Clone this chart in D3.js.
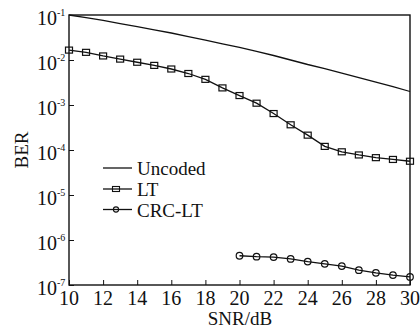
<!DOCTYPE html>
<html>
<head>
<meta charset="utf-8">
<script src="https://cdn.jsdelivr.net/npm/d3@7"></script>
<style>
  body { margin: 0; background: #fff; }
  text { font-family: "Liberation Serif", "DejaVu Serif", serif; fill: #111; }
</style>
</head>
<body>
<div class="canva"></div>
<script>
// SNR values (dB)
const snr = [10, 11, 12, 13, 14, 15, 16, 17, 18, 19, 20, 21, 22, 23, 24, 25, 26, 27, 28, 29, 30];
const snrCrc = [20, 21, 22, 23, 24, 25, 26, 27, 28, 29, 30];

// BER (log10)
const uncodedLog = [-1.0, -1.06, -1.12, -1.19, -1.26, -1.33, -1.40, -1.48, -1.56, -1.64, -1.72, -1.81, -1.90, -2.0, -2.10, -2.19, -2.29, -2.39, -2.49, -2.59, -2.70];
const ltLog = [-1.78, -1.83, -1.91, -1.98, -2.05, -2.12, -2.20, -2.30, -2.43, -2.62, -2.79, -2.96, -3.19, -3.44, -3.67, -3.92, -4.04, -4.11, -4.17, -4.21, -4.25];
const crcLog = [-6.35, -6.37, -6.38, -6.42, -6.48, -6.53, -6.58, -6.67, -6.73, -6.78, -6.82];

const xTicks = [10, 12, 14, 16, 18, 20, 22, 24, 26, 28, 30];
const yExps = [-1, -2, -3, -4, -5, -6, -7];
const legendNames = ["Uncoded", "LT", "CRC-LT"];

const W = 420, H = 331;
const mLeft = 69, mRight = 410, mTop = 15, mBottom = 285;

const svg = d3.select('.canva').append('svg')
    .attr('width', W)
    .attr('height', H);

const x = d3.scaleLinear().domain([10, 30]).range([mLeft, mRight]);
const y = d3.scaleLog().domain([1e-7, 1e-1]).range([mBottom, mTop]);

const toPts = (xs, logs) => xs.map((d, i) => ({x: d, v: Math.pow(10, logs[i])}));
const uncoded = toPts(snr, uncodedLog);
const lt = toPts(snr, ltLog);
const crc = toPts(snrCrc, crcLog);

const line = d3.line().x(d => x(d.x)).y(d => y(d.v));
const stroke = '#111';

// frame
svg.append('rect')
    .attr('x', mLeft).attr('y', mTop)
    .attr('width', mRight - mLeft).attr('height', mBottom - mTop)
    .attr('fill', 'none').attr('stroke', stroke).attr('stroke-width', 1.4);

// x axis ticks (inward)
const xAxis = d3.axisBottom(x).tickValues(xTicks).tickSizeInner(-5).tickSizeOuter(0).tickFormat('');
const gx = svg.append('g').attr('transform', `translate(0,${mBottom})`).call(xAxis);
gx.select('.domain').remove();
gx.selectAll('line').attr('stroke', stroke);

svg.append('g').selectAll('text')
    .data(xTicks)
    .enter().append('text')
    .attr('x', d => x(d))
    .attr('y', 305)
    .attr('text-anchor', 'middle')
    .attr('font-size', 20)
    .text(d => d);

// y axis ticks (inward)
const yAxis = d3.axisLeft(y).tickValues(yExps.map(e => Math.pow(10, e))).tickSizeInner(-5).tickSizeOuter(0).tickFormat('');
const gy = svg.append('g').attr('transform', `translate(${mLeft},0)`).call(yAxis);
gy.select('.domain').remove();
gy.selectAll('line').attr('stroke', stroke);

svg.append('g').selectAll('text')
    .data(yExps)
    .enter().append('text')
    .attr('x', 57)
    .attr('y', d => y(Math.pow(10, d)) + 10)
    .attr('text-anchor', 'end')
    .attr('font-size', 20)
    .text('10');
svg.append('g').selectAll('text')
    .data(yExps)
    .enter().append('text')
    .attr('x', 57)
    .attr('y', d => y(Math.pow(10, d)) + 0.5)
    .attr('font-size', 10)
    .text(d => '-' + Math.abs(d));

// axis titles
svg.append('text')
    .attr('x', 240)
    .attr('y', 325)
    .attr('text-anchor', 'middle')
    .attr('font-size', 19)
    .text('SNR/dB');
svg.append('text')
    .attr('transform', `translate(28,150) rotate(-90)`)
    .attr('text-anchor', 'middle')
    .attr('font-size', 19)
    .text('BER');

// series
[uncoded, lt, crc].forEach(s => {
    svg.append('path').datum(s).attr('d', line)
        .attr('fill', 'none').attr('stroke', stroke).attr('stroke-width', 1.3);
});

const sqW = 7, sqH = 6;
svg.selectAll('rect.lt').data(lt)
    .enter().append('rect').attr('class', 'lt')
    .attr('x', d => x(d.x) - sqW / 2)
    .attr('y', d => y(d.v) - sqH / 2)
    .attr('width', sqW).attr('height', sqH)
    .attr('fill', 'none').attr('stroke', stroke).attr('stroke-width', 1.2);

svg.selectAll('circle.crc').data(crc)
    .enter().append('circle').attr('class', 'crc')
    .attr('cx', d => x(d.x))
    .attr('cy', d => y(d.v))
    .attr('r', 3.3)
    .attr('fill', 'none').attr('stroke', stroke).attr('stroke-width', 1.2);

// legend
const lg = svg.append('g');
const legY = [168, 189, 209.5];
legendNames.forEach((name, i) => {
    lg.append('line')
        .attr('x1', 103).attr('x2', 132)
        .attr('y1', legY[i]).attr('y2', legY[i])
        .attr('stroke', stroke).attr('stroke-width', 1.3);
    if (i === 1) {
        lg.append('rect').attr('x', 116 - 3.5).attr('y', legY[i] - 2.5)
            .attr('width', 7).attr('height', 5)
            .attr('fill', 'none').attr('stroke', stroke).attr('stroke-width', 1.1);
    }
    if (i === 2) {
        lg.append('circle').attr('cx', 116).attr('cy', legY[i]).attr('r', 2.6)
            .attr('fill', 'none').attr('stroke', stroke).attr('stroke-width', 1.1);
    }
    lg.append('text')
        .attr('x', 137).attr('y', legY[i] + 7)
        .attr('font-size', 19)
        .text(name);
});
</script>
</body>
</html>
